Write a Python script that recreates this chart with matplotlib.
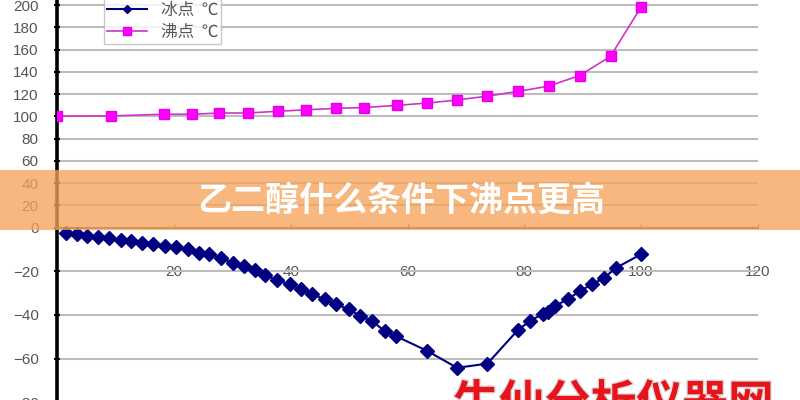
import numpy as np
import matplotlib
matplotlib.use("Agg")
import matplotlib.pyplot as plt
from matplotlib.lines import Line2D
from matplotlib.patches import Rectangle
import matplotlib.patheffects as pe

plt.rcParams['font.family'] = ['Liberation Sans', 'Noto Sans CJK SC', 'DejaVu Sans']

# ethylene glycol concentration (%) vs boiling point
boil_x = [0, 9.1, 18.2, 23.1, 27.7, 32.6, 37.8, 42.6, 47.8, 52.5, 58.2, 63.4,
          68.5, 73.7, 78.9, 84.2, 89.5, 94.8, 100]
boil_y = [100, 100.3, 101.8, 101.8, 102.9, 102.9, 104.5, 105.8, 107.1, 107.8,
          109.8, 111.9, 114.6, 118.1, 122.3, 127.1, 136.6, 153.8, 197.9]

# concentration (%) vs freezing point
freeze_x = [1.5, 3.3, 5.1, 7.0, 8.9, 10.8, 12.6, 14.5, 16.4, 18.4, 20.3, 22.3,
            24.2, 26.0, 28.0, 30.0, 31.9, 33.8, 35.6, 37.7, 39.8, 41.8, 43.7,
            45.8, 47.8, 49.9, 51.9, 53.9, 56.1, 58.0, 63.4, 68.5, 73.7, 78.9,
            81.0, 83.2, 84.1, 85.2, 87.5, 89.5, 91.7, 93.7, 95.8, 100]
freeze_y = [-2.4, -3.1, -3.9, -4.3, -4.7, -5.7, -6.2, -7.0, -7.7, -8.5, -8.9,
            -10.0, -11.5, -12.3, -14.1, -16.1, -17.6, -19.6, -21.7, -24.2,
            -26.0, -28.0, -30.6, -32.9, -35.1, -37.4, -40.5, -42.8, -47.4,
            -49.7, -56.5, -64.2, -62.3, -47.0, -42.8, -39.5, -38.5, -35.9,
            -32.9, -29.1, -26.0, -23.0, -18.4, -12.3]

y_ticks = list(range(-80, 201, 20))
x_ticks = [20, 40, 60, 80, 100, 120]

title_text = '乙二醇什么条件下沸点更高'
mark_text = '牛仙分析仪器网'

# negative part of the axis is stretched in the picture
k = 1.964
def fwd(y):
    y = np.asarray(y, dtype=float)
    return np.where(y < 0, y * k, y)
def inv(y):
    y = np.asarray(y, dtype=float)
    return np.where(y < 0, y / k, y)

fig = plt.figure(figsize=(8, 4), dpi=100)
ax = fig.add_axes([57.5 / 800, -0.05, 700 / 800, 1.05])
ax.set_yscale('function', functions=(fwd, inv))
ax.set_xlim(0, 120)
ax.set_ylim(-88.1, 204.5)

ax.set_yticks(y_ticks)
ax.set_xticks(x_ticks)
ax.yaxis.grid(True, color='#bdbdbd', lw=1.5)
ax.set_axisbelow(True)

for s in ['top', 'right']:
    ax.spines[s].set_visible(False)
ax.spines['left'].set_linewidth(2.6)
ax.spines['left'].set_color('black')
ax.spines['bottom'].set_position(('data', 0))
ax.spines['bottom'].set_color('#555555')
ax.spines['bottom'].set_linewidth(1.3)

ax.tick_params(axis='y', direction='inout', length=5, width=1.5, color='black',
               labelsize=11, labelcolor='#555555', pad=11)
ax.tick_params(axis='x', direction='in', length=3, color='#555555',
               labelsize=11, labelcolor='#555555', pad=27)

ax.plot(freeze_x, freeze_y, color='#000080', lw=1.5, marker='D', ms=7.5,
        mfc='#000080', mec='#000080', zorder=3)
ax.plot(boil_x, boil_y, color='#cc33cc', lw=1.2, marker='s', ms=6.5,
        mfc='#ff00ff', mec='#e600e6', zorder=3)

handles = [
    Line2D([], [], color='#000080', lw=1.5, marker='D', ms=4),
    Line2D([], [], color='#cc33cc', lw=1.2, marker='s', ms=6, mfc='#ff00ff', mec='#e600e6'),
]
leg = fig.legend(handles, ['冰点  ℃', '沸点  ℃'], loc='lower left',
                 bbox_to_anchor=(104 / 800, 1 - 44 / 400), borderaxespad=0,
                 frameon=True, fancybox=False, handlelength=2.4,
                 prop={'family': ['Noto Sans CJK SC', 'DejaVu Sans'], 'size': 12},
                 labelcolor='#555555', labelspacing=0.3, borderpad=0.2)
leg.get_frame().set_edgecolor('#bbbbbb')
leg.get_frame().set_linewidth(1.0)

# orange banner across the middle
fig.add_artist(Rectangle((0, 1 - 229.5 / 400), 1, 60 / 400, transform=fig.transFigure,
                         facecolor='#f5a35a', alpha=0.78, edgecolor='none', zorder=10))
fig.text(0.502, 1 - 200 / 400, title_text, ha='center', va='center', color='white',
         fontsize=24.5, fontweight='bold', family=['Noto Sans CJK SC'], zorder=11)

# watermark at the bottom, cut off by the edge
fig.text(453 / 800, 1 - 382 / 400, mark_text, ha='left', va='top', color='#e8141b',
         fontsize=33, fontweight='bold', family=['Noto Sans CJK SC'], zorder=11,
         path_effects=[pe.withStroke(linewidth=2, foreground='#dddddd')])

fig.savefig('out.png', dpi=100)
